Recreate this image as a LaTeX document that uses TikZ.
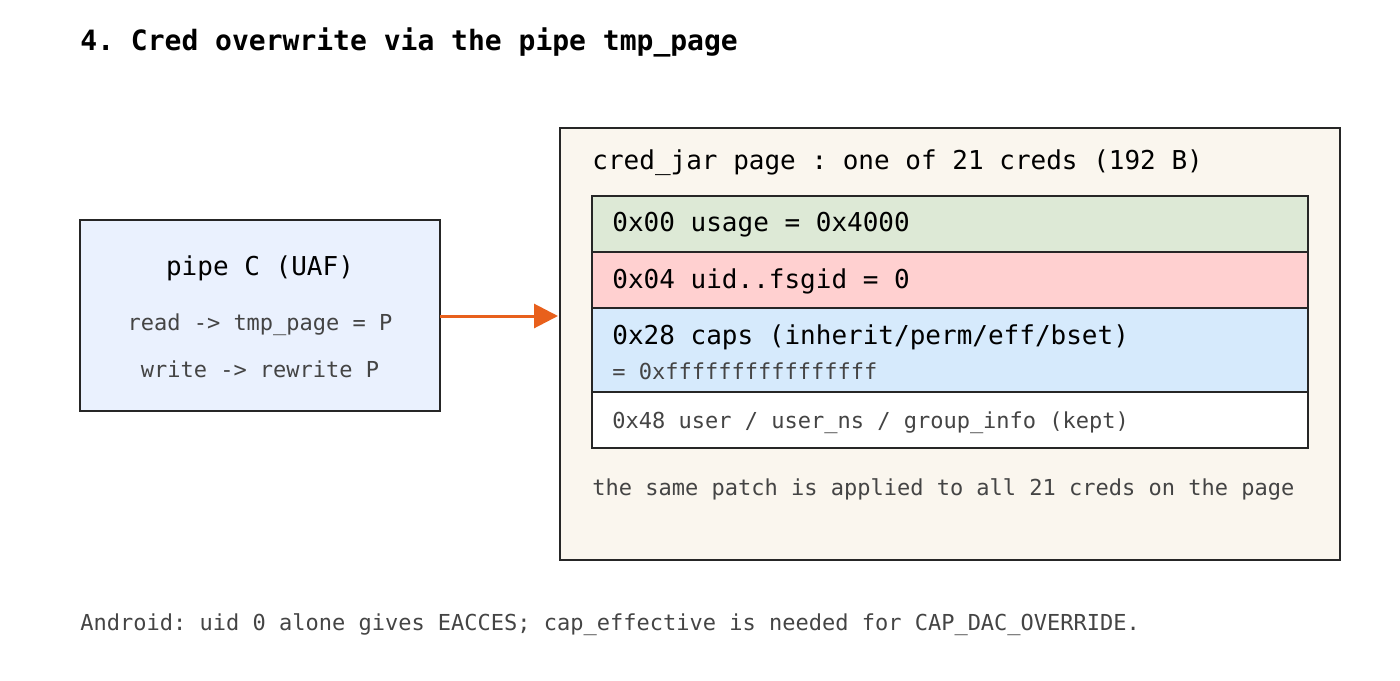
\documentclass[tikz,border=0pt]{standalone}
\usepackage{fontspec}
\setmonofont{DejaVu Sans Mono}
\usetikzlibrary{positioning,arrows.meta}
\definecolor{pipeblue}{HTML}{EAF1FE}
\definecolor{jarbg}{HTML}{FAF6EE}
\definecolor{usegreen}{HTML}{DDE9D6}
\definecolor{uidred}{HTML}{FFD0D0}
\definecolor{capblue}{HTML}{D6EAFC}
\definecolor{arrowc}{HTML}{E8601C}
\definecolor{note}{HTML}{444444}
\tikzset{
  box/.style={draw=black!85,line width=1pt},
  big/.style={font=\ttfamily\fontsize{13}{15}\selectfont,anchor=west,inner sep=0pt},
  small/.style={font=\ttfamily\fontsize{11}{13}\selectfont,text=note,inner sep=0pt},
}
\begin{document}
\begin{tikzpicture}[x=0.5pt,y=-0.5pt]
      \useasboundingbox (0,0) rectangle (1400,680);
      \node[anchor=west,inner sep=0pt,font=\ttfamily\bfseries\fontsize{14}{16}\selectfont] (title) at (80,42) {4. Cred overwrite via the pipe tmp\_page};
      % pipe
      \draw[box,fill=pipeblue] (80,220) rectangle (440,411);
      \coordinate (pipeout) at (440,316);
      \node[big,anchor=center] (pipe) at (260,268) {pipe C (UAF)};
      \node[small] (rd) at (260,325) {read -> tmp\_page = P};
      \node[small] (wr) at (260,369) {write -> rewrite P};
      % cred page
      \draw[box,fill=jarbg] (560,128) rectangle (1340,560);
      \coordinate (jarin) at (558,316);
      \node[big] (jar) at (592,163) {cred\_jar page : one of 21 creds (192 B)};
      \draw[box,fill=usegreen] (592,196) rectangle (1308,252);
      \draw[box,fill=uidred] (592,252) rectangle (1308,308);
      \draw[box,fill=capblue] (592,308) rectangle (1308,392);
      \draw[box,fill=white] (592,392) rectangle (1308,448);
      \node[big] (usage) at (612,225) {0x00 usage = 0x4000};
      \node[big] (uid) at (612,281) {0x04 uid..fsgid = 0};
      \node[big] (caps) at (612,337) {0x28 caps (inherit/perm/eff/bset)};
      \node[small,anchor=west] (capv) at (612,371) {= 0xffffffffffffffff};
      \node[small,anchor=west] (user) at (612,423) {0x48 user / user\_ns / group\_info (kept)};
      \node[small,anchor=west] (same) at (592,489) {the same patch is applied to all 21 creds on the page};
      \node[small,anchor=west] (android) at (80,625) {Android: uid 0 alone gives EACCES; cap\_effective is needed for CAP\_DAC\_OVERRIDE.};
      \draw[arrowc,line width=1.5pt,-{Triangle[length=12pt,width=12pt]}] (pipeout) -- (jarin);
\end{tikzpicture}
\end{document}
